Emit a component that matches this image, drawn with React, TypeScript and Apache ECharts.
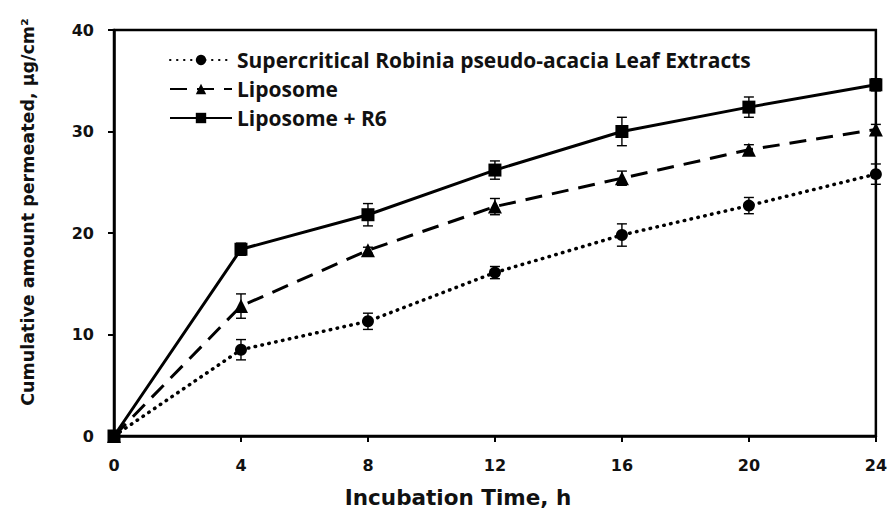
import React, { useEffect, useRef } from "react";
import * as echarts from "echarts";

const times = [0, 4, 8, 12, 16, 20, 24];
const extractVals = [0, 8.5, 11.3, 16.1, 19.8, 22.7, 25.8];
const extractErr = [0, 1.0, 0.8, 0.6, 1.1, 0.8, 1.0];
const liposomeVals = [0, 12.8, 18.3, 22.6, 25.4, 28.2, 30.2];
const liposomeErr = [0, 1.2, 0.3, 0.8, 0.7, 0.5, 0.5];
const r6Vals = [0, 18.4, 21.8, 26.2, 30.0, 32.4, 34.6];
const r6Err = [0, 0.6, 1.1, 0.9, 1.4, 1.0, 0.6];
const seriesNames = [
  "Supercritical Robinia pseudo-acacia Leaf Extracts",
  "Liposome",
  "Liposome + R6",
];
const xTitle = "Incubation Time, h";
const yTitle = "Cumulative amount permeated, μg/cm²";

const axisFont = "DejaVu Sans";

function pts(vals: number[]) {
  return times.map((t, i) => [t, vals[i]]);
}
function errs(vals: number[], e: number[]) {
  return times.map((t, i) => [t, vals[i] - e[i], vals[i] + e[i]]).filter((_, i) => e[i] > 0);
}

const errRender = (params: any, api: any) => {
  const x = api.value(0);
  const lo = api.coord([x, api.value(1)]);
  const hi = api.coord([x, api.value(2)]);
  const w = 5;
  const style = { stroke: "#000", lineWidth: 1.4 };
  return {
    type: "group",
    children: [
      { type: "line", shape: { x1: lo[0], y1: lo[1], x2: hi[0], y2: hi[1] }, style },
      { type: "line", shape: { x1: lo[0] - w, y1: lo[1], x2: lo[0] + w, y2: lo[1] }, style },
      { type: "line", shape: { x1: hi[0] - w, y1: hi[1], x2: hi[0] + w, y2: hi[1] }, style },
    ],
  };
};

export default function App() {
  const ref = useRef<HTMLDivElement>(null);
  useEffect(() => {
    if (!ref.current) return;
    const chart = echarts.init(ref.current, null, { renderer: "svg" });
    chart.setOption({
      animation: false,
      backgroundColor: "#fff",
      grid: {
        left: 114,
        right: 13,
        top: 30,
        bottom: 83,
        show: true,
        borderColor: "#000",
        borderWidth: 2.5,
      },
      legend: {
        data: seriesNames,
        orient: "vertical",
        left: 164,
        top: 43,
        itemWidth: 62,
        itemHeight: 13,
        itemGap: 5,
        textStyle: { fontFamily: "Open Sans", fontWeight: "bold", fontSize: 21, color: "#111", lineHeight: 24 },
        selectedMode: false,
      },
      xAxis: {
        type: "value",
        min: 0,
        max: 24,
        interval: 4,
        axisLine: { lineStyle: { color: "#000", width: 2.5 } },
        axisTick: { show: true, length: 6, lineStyle: { color: "#000", width: 2 } },
        axisLabel: { fontFamily: axisFont, fontWeight: "bold", fontSize: 16, color: "#111", margin: 21 },
        splitLine: { show: false },
      },
      yAxis: {
        type: "value",
        min: 0,
        max: 40,
        interval: 10,
        axisLine: { show: true, lineStyle: { color: "#000", width: 2.5 } },
        axisTick: { show: true, length: 6, lineStyle: { color: "#000", width: 2 } },
        axisLabel: { fontFamily: axisFont, fontWeight: "bold", fontSize: 16, color: "#111", margin: 20 },
        splitLine: { show: false },
      },
      graphic: [
        {
          type: "text",
          x: 28,
          y: 212,
          rotation: Math.PI / 2,
          style: {
            text: yTitle,
            fontFamily: axisFont,
            fontWeight: "bold",
            fontSize: 17.5,
            fill: "#111",
            align: "center",
            verticalAlign: "middle",
          },
        },
        {
          type: "text",
          x: 458,
          y: 497,
          style: {
            text: xTitle,
            fontFamily: axisFont,
            fontWeight: "bold",
            fontSize: 21.5,
            fill: "#111",
            align: "center",
            verticalAlign: "middle",
          },
        },
      ],
      series: [
        {
          name: seriesNames[0],
          type: "line",
          data: pts(extractVals),
          symbol: "circle",
          symbolSize: 12,
          itemStyle: { color: "#000" },
          lineStyle: { color: "#000", width: 3.5, type: [0.5, 6.5], cap: "round" },
          z: 3,
        },
        {
          name: seriesNames[1],
          type: "line",
          data: pts(liposomeVals),
          symbol: "triangle",
          symbolSize: 14,
          itemStyle: { color: "#000" },
          lineStyle: { color: "#000", width: 3, type: [17, 10] },
          z: 3,
        },
        {
          name: seriesNames[2],
          type: "line",
          data: pts(r6Vals),
          symbol: "rect",
          symbolSize: 13,
          itemStyle: { color: "#000" },
          lineStyle: { color: "#000", width: 3 },
          z: 3,
        },
        { type: "custom", name: "err1", data: errs(extractVals, extractErr), renderItem: errRender, z: 4 },
        { type: "custom", name: "err2", data: errs(liposomeVals, liposomeErr), renderItem: errRender, z: 4 },
        { type: "custom", name: "err3", data: errs(r6Vals, r6Err), renderItem: errRender, z: 4 },
      ],
    });
    return () => chart.dispose();
  }, []);
  return <div ref={ref} style={{ position: "fixed", left: 0, top: 0, width: 890, height: 519 }} />;
}
